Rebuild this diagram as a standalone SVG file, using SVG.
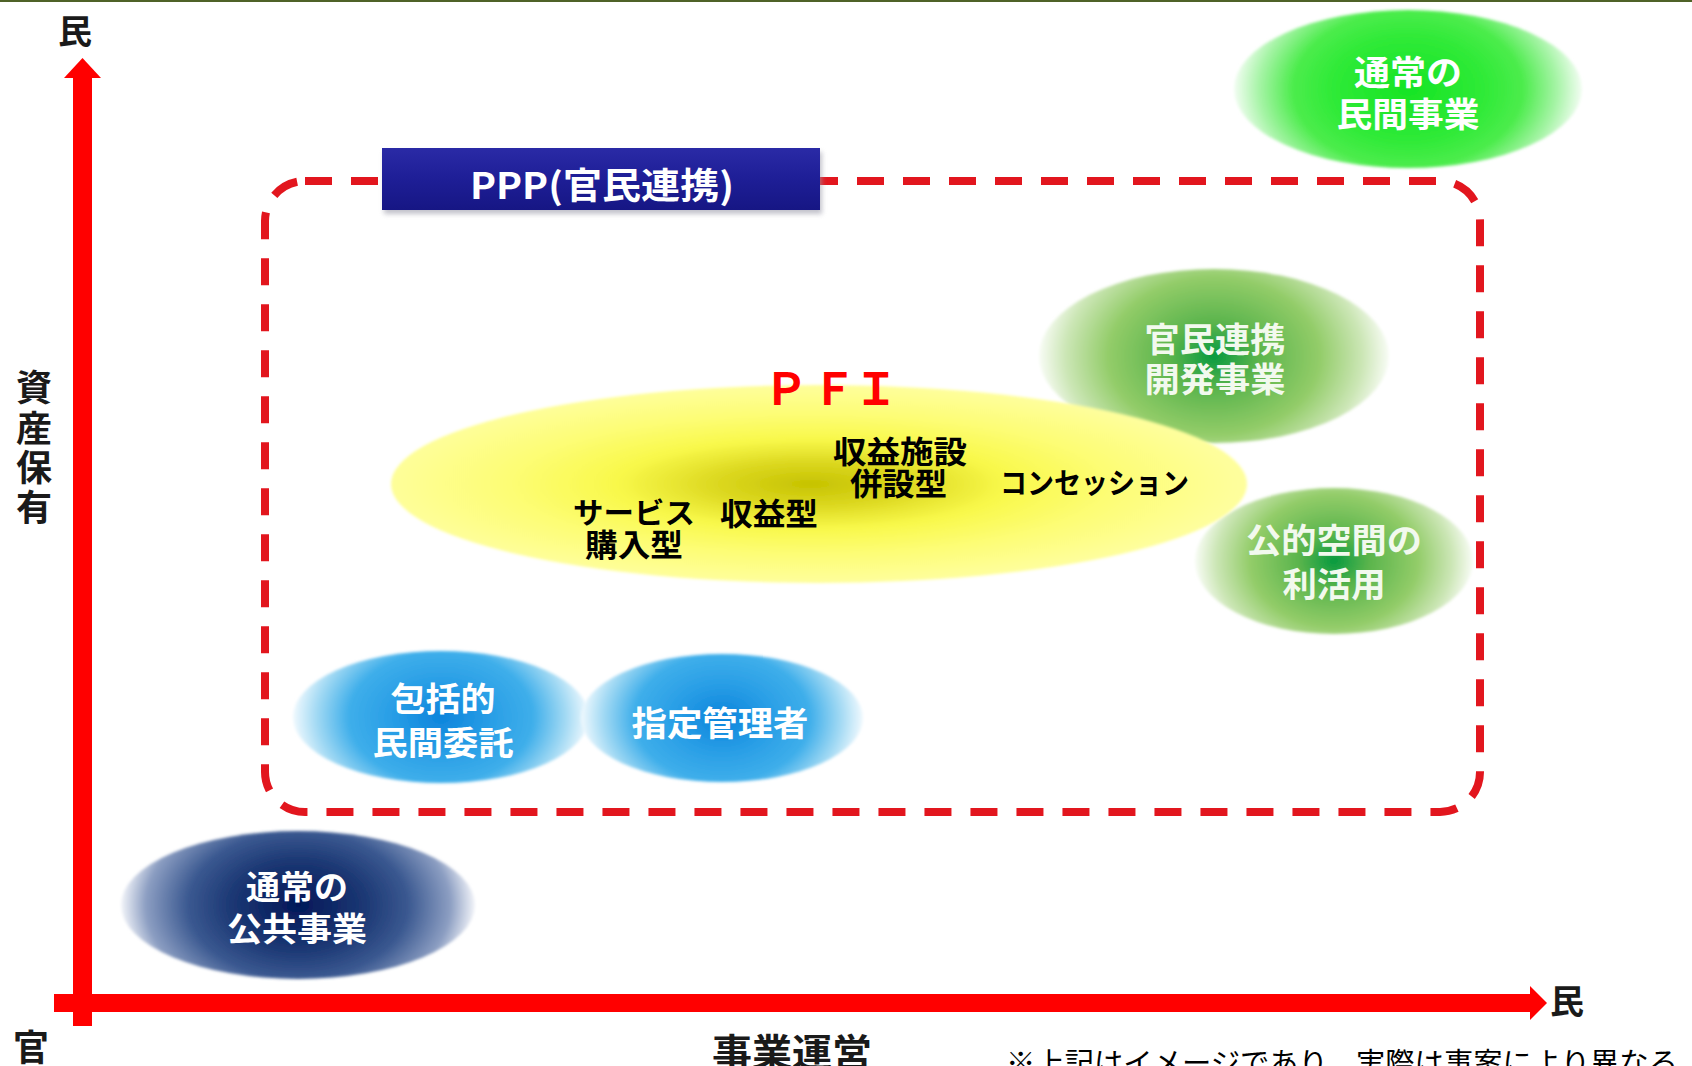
<svg xmlns="http://www.w3.org/2000/svg" width="1692" height="1066" viewBox="0 0 1692 1066">
<style>
.jp{font-family:"Noto Sans CJK JP","Noto Sans CJK SC",sans-serif;}
.ax{font-family:"Noto Sans CJK JP",sans-serif;font-weight:700;fill:#1a1a1a;}
.wl{font-family:"Noto Sans CJK JP",sans-serif;font-weight:700;fill:#ffffff;text-anchor:middle;}
.bl{font-family:"Noto Sans CJK JP",sans-serif;font-weight:700;fill:#000000;}
.axis{fill:#ff0000;}
</style>
<defs>
<filter id="soft" x="-10%" y="-10%" width="120%" height="120%"><feGaussianBlur stdDeviation="1.8"/></filter>
<filter id="shadow" x="-5%" y="-20%" width="110%" height="160%"><feGaussianBlur stdDeviation="2.5"/></filter>
<radialGradient id="gBlue" cx="0.5" cy="0.5" r="0.5" gradientTransform="translate(0.5,0.5) scale(1,1.6) translate(-0.5,-0.5)">
<stop offset="0" stop-color="#0c84dc"/>
<stop offset="0.35" stop-color="#2a9fe6"/>
<stop offset="0.62" stop-color="#3eaeea"/>
<stop offset="0.85" stop-color="#a6dbf4"/>
<stop offset="1" stop-color="#f0f9fe"/>
</radialGradient>
<radialGradient id="gNavy" cx="0.5" cy="0.5" r="0.5" gradientTransform="translate(0.5,0.5) scale(1,1.6) translate(-0.5,-0.5)">
<stop offset="0" stop-color="#021858"/>
<stop offset="0.38" stop-color="#1c3874"/>
<stop offset="0.62" stop-color="#3a5890"/>
<stop offset="0.86" stop-color="#8c9ec2"/>
<stop offset="1" stop-color="#f2f4f9"/>
</radialGradient>
<radialGradient id="gGreenBright" cx="0.5" cy="0.5" r="0.5" gradientTransform="translate(0.5,0.5) scale(1,1.5) translate(-0.5,-0.5)">
<stop offset="0" stop-color="#16e424"/>
<stop offset="0.45" stop-color="#30ea38"/>
<stop offset="0.66" stop-color="#4cec4c"/>
<stop offset="0.86" stop-color="#a8f4a8"/>
<stop offset="1" stop-color="#f2fdf2"/>
</radialGradient>
<radialGradient id="gGreen" cx="0.5" cy="0.5" r="0.5" gradientTransform="translate(0.5,0.5) scale(1,1.5) translate(-0.5,-0.5)">
<stop offset="0" stop-color="#089a40"/>
<stop offset="0.25" stop-color="#5ab44c"/>
<stop offset="0.6" stop-color="#92cc68"/>
<stop offset="0.85" stop-color="#cce6b6"/>
<stop offset="1" stop-color="#f8fcf5"/>
</radialGradient>
<radialGradient id="gYellow" cx="0.49" cy="0.5" r="0.5">
<stop offset="0" stop-color="#c6c200"/>
<stop offset="0.22" stop-color="#dcd820"/>
<stop offset="0.45" stop-color="#f8f84a"/>
<stop offset="0.7" stop-color="#fdfd74"/>
<stop offset="1" stop-color="#fefe9c"/>
</radialGradient>
<linearGradient id="gBox" x1="0" y1="0" x2="0" y2="1">
<stop offset="0" stop-color="#2a2aa6"/>
<stop offset="0.5" stop-color="#1e1e96"/>
<stop offset="1" stop-color="#161684"/>
</linearGradient>
</defs>

<rect x="0" y="0" width="1692" height="1066" fill="#ffffff"/>
<rect x="0" y="0" width="1692" height="2" fill="#4f6228"/>

<g id="connectors">
<rect id="ppp-boundary" x="265" y="181" width="1215" height="631" rx="40" ry="40" fill="none" stroke="#e2161e" stroke-width="8" stroke-dasharray="27 19"/>
<g id="axis-vertical">
<rect class="axis" x="73" y="77" width="19" height="949"/>
<polygon class="axis" points="82.5,58 101,78 64,78"/>
</g>
<g id="axis-horizontal">
<rect class="axis" x="54" y="994" width="1478" height="18"/>
<polygon class="axis" points="1530,986 1547,1003 1530,1020"/>
</g>
</g>

<g id="node-minkan">
<ellipse cx="1408" cy="89" rx="174" ry="79" fill="url(#gGreenBright)" filter="url(#soft)"/>
<text class="wl" x="1408" y="85" font-size="34" textLength="108" lengthAdjust="spacingAndGlyphs">通常の</text>
<text class="wl" x="1408" y="127" font-size="34" textLength="143" lengthAdjust="spacingAndGlyphs">民間事業</text>
</g>

<g id="node-kaihatsu">
<ellipse cx="1214" cy="356" rx="175" ry="87" fill="url(#gGreen)" filter="url(#soft)"/>
<text class="wl" x="1215" y="352" font-size="34" textLength="141" lengthAdjust="spacingAndGlyphs" style="fill:#f2f9ee">官民連携</text>
<text class="wl" x="1215" y="392" font-size="34" textLength="141" lengthAdjust="spacingAndGlyphs" style="fill:#f2f9ee">開発事業</text>
</g>

<g id="node-kouteki">
<ellipse cx="1334" cy="561" rx="139" ry="73" fill="url(#gGreen)" filter="url(#soft)"/>
<text class="wl" x="1334" y="553" font-size="34" textLength="176" lengthAdjust="spacingAndGlyphs" style="fill:#f2f9ee">公的空間の</text>
<text class="wl" x="1334" y="597" font-size="34" textLength="103" lengthAdjust="spacingAndGlyphs" style="fill:#f2f9ee">利活用</text>
</g>

<g id="node-pfi">
<ellipse cx="819" cy="484" rx="428" ry="99" fill="url(#gYellow)" filter="url(#soft)"/>
<text class="jp" x="786 834 876" y="405" font-size="44" font-weight="700" fill="#ff0000" text-anchor="middle">ＰＦＩ</text>
<text class="bl" x="833" y="463" font-size="31" textLength="134" lengthAdjust="spacingAndGlyphs">収益施設</text>
<text class="bl" x="850" y="495" font-size="31" textLength="97" lengthAdjust="spacingAndGlyphs">併設型</text>
<text class="bl" x="1000" y="494" font-size="29" textLength="189" lengthAdjust="spacingAndGlyphs">コンセッション</text>
<text class="bl" x="573" y="524" font-size="29" textLength="122" lengthAdjust="spacingAndGlyphs">サービス</text>
<text class="bl" x="720" y="525" font-size="31" textLength="98" lengthAdjust="spacingAndGlyphs">収益型</text>
<text class="bl" x="585" y="556" font-size="31" textLength="98" lengthAdjust="spacingAndGlyphs">購入型</text>
</g>

<g id="node-houkatsu">
<ellipse cx="441" cy="717" rx="148" ry="66" fill="url(#gBlue)" filter="url(#soft)"/>
<text class="wl" x="443" y="711" font-size="33" textLength="105" lengthAdjust="spacingAndGlyphs">包括的</text>
<text class="wl" x="443" y="755" font-size="33" textLength="141" lengthAdjust="spacingAndGlyphs">民間委託</text>
</g>

<g id="node-shitei">
<ellipse cx="722" cy="718" rx="141" ry="64" fill="url(#gBlue)" filter="url(#soft)"/>
<text class="wl" x="720" y="736" font-size="34" textLength="177" lengthAdjust="spacingAndGlyphs">指定管理者</text>
</g>

<g id="node-koukyou">
<ellipse cx="298" cy="905" rx="177" ry="74" fill="url(#gNavy)" filter="url(#soft)"/>
<text class="wl" x="297" y="899" font-size="33" textLength="102" lengthAdjust="spacingAndGlyphs">通常の</text>
<text class="wl" x="297" y="941" font-size="33" textLength="140" lengthAdjust="spacingAndGlyphs">公共事業</text>
</g>

<g id="node-ppp">
<rect x="384" y="152" width="438" height="62" fill="#9a9aa8" opacity="0.6" filter="url(#shadow)"/>
<rect x="382" y="148" width="438" height="62" fill="url(#gBox)"/>
<text class="wl" x="470" y="199" font-size="36" style="text-anchor:start" textLength="264" lengthAdjust="spacingAndGlyphs">PPP(官民連携)</text>
</g>

<g id="labels">
<text class="ax" x="75" y="44" font-size="34" text-anchor="middle">民</text>
<text class="ax" x="1567" y="1014" font-size="34" text-anchor="middle">民</text>
<text class="ax" x="31" y="1061" font-size="36" text-anchor="middle">官</text>
<text class="ax" x="34" font-size="36" text-anchor="middle"><tspan x="34" y="401">資</tspan><tspan x="34" y="442">産</tspan><tspan x="34" y="481">保</tspan><tspan x="34" y="521">有</tspan></text>
<text class="ax" x="712" y="1066" font-size="38" textLength="160" lengthAdjust="spacingAndGlyphs">事業運営</text>
<text class="jp" x="1006" y="1074" font-size="29" fill="#000000" textLength="672" lengthAdjust="spacingAndGlyphs">※上記はイメージであり、実際は事案により異なる</text>
</g>
</svg>
